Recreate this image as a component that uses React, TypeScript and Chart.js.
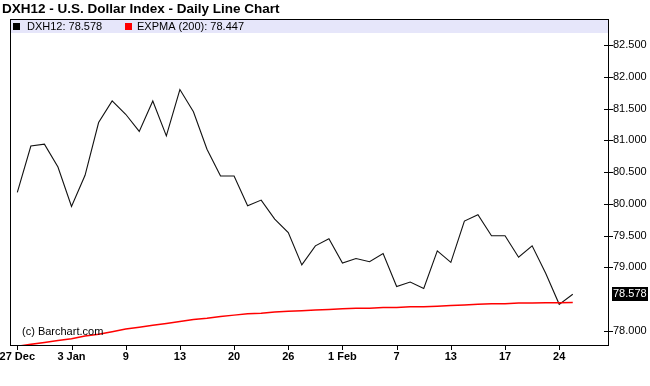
import React, { useEffect, useRef } from 'react';
import { Chart, registerables } from 'chart.js';
Chart.register(...registerables);

const TITLE = 'DXH12 - U.S. Dollar Index - Daily Line Chart';
const COPYRIGHT = '(c) Barchart.com';
const dxLabel = 'DXH12: 78.578';
const emaLabel = 'EXPMA (200): 78.447';
const lastDx = 78.578;

const dxValues = [
  80.18, 80.91, 80.94, 80.58, 79.96, 80.45, 81.28, 81.62, 81.41, 81.14,
  81.62, 81.07, 81.80, 81.45, 80.86, 80.44, 80.44, 79.97, 80.06, 79.76,
  79.55, 79.04, 79.34, 79.45, 79.07, 79.14, 79.09, 79.22, 78.70, 78.77,
  78.67, 79.26, 79.08, 79.73, 79.83, 79.50, 79.50, 79.16, 79.34, 78.91,
  78.42, 78.578,
];
const emaValues = [
  77.76, 77.79, 77.82, 77.85, 77.88, 77.92, 77.95, 77.99, 78.03, 78.06,
  78.09, 78.12, 78.15, 78.18, 78.20, 78.23, 78.25, 78.27, 78.28, 78.30,
  78.31, 78.32, 78.33, 78.34, 78.35, 78.36, 78.36, 78.37, 78.37, 78.38,
  78.38, 78.39, 78.40, 78.41, 78.42, 78.43, 78.43, 78.44, 78.44, 78.445,
  78.445, 78.447,
];
const xTickIndices = [0, 4, 8, 12, 16, 20, 24, 28, 32, 36, 40];
const xTickLabels = ['27 Dec', '3 Jan', '9', '13', '20', '26', '1 Feb', '7', '13', '17', '24'];
const yTickValues = [78.0, 79.0, 79.5, 80.0, 80.5, 81.0, 81.5, 82.0, 82.5];

const FONT = '"Liberation Sans", Arial, Helvetica, sans-serif';

const framePlugin = {
  id: 'framePlugin',
  beforeDatasetsDraw(chart: any) {
    const { ctx, chartArea } = chart;
    ctx.save();
    ctx.fillStyle = '#e6e6fa';
    ctx.fillRect(chartArea.left + 1, chartArea.top + 1, chartArea.right - chartArea.left - 1, 13);
    ctx.restore();
  },
  afterDraw(chart: any) {
    const { ctx, chartArea, scales } = chart;
    const { left, right, top, bottom } = chartArea;
    ctx.save();
    ctx.strokeStyle = '#000';
    ctx.lineWidth = 1;
    ctx.strokeRect(left + 0.5, top + 0.5, right - left, bottom - top);
    ctx.beginPath();
    yTickValues.forEach((v) => {
      const y = Math.round(scales.y.getPixelForValue(v)) + 0.5;
      ctx.moveTo(right - 4, y);
      ctx.lineTo(right + 5, y);
    });
    xTickIndices.forEach((v) => {
      const x = Math.round(scales.x.getPixelForValue(v)) + 0.5;
      ctx.moveTo(x, bottom);
      ctx.lineTo(x, bottom + 5);
    });
    ctx.stroke();

    ctx.fillStyle = '#000';
    ctx.textBaseline = 'middle';
    ctx.textAlign = 'left';
    ctx.font = 'bold 13.5px ' + FONT;
    ctx.fillText(TITLE, 2, 9);

    ctx.font = '11px ' + FONT;
    ctx.fillStyle = '#000';
    ctx.fillRect(13, 23, 7, 7);
    ctx.fillText(dxLabel, 27, 27);
    ctx.fillStyle = '#ff0000';
    ctx.fillRect(125, 23, 7, 7);
    ctx.fillStyle = '#000';
    ctx.fillText(emaLabel, 137, 27);

    ctx.fillText(COPYRIGHT, 22, 332);

    const yl = Math.round(scales.y.getPixelForValue(lastDx));
    ctx.fillStyle = '#000';
    ctx.fillRect(right + 4, yl - 7, 36, 14);
    ctx.fillStyle = '#fff';
    ctx.fillText(lastDx.toFixed(3), right + 5, yl);
    ctx.restore();
  },
};

export default function App() {
  const ref = useRef<HTMLCanvasElement>(null);
  useEffect(() => {
    if (!ref.current) return;
    const chart = new Chart(ref.current, {
      type: 'line',
      data: {
        datasets: [
          {
            label: 'EXPMA (200)',
            data: emaValues.map((v, i) => ({ x: i, y: v })),
            borderColor: '#ff0000',
            borderWidth: 1.5,
            pointRadius: 0,
            tension: 0,
            fill: false,
          },
          {
            label: 'DXH12',
            data: dxValues.map((v, i) => ({ x: i, y: v })),
            borderColor: '#111',
            borderWidth: 1.1,
            pointRadius: 0,
            tension: 0,
            fill: false,
          },
        ],
      },
      options: {
        animation: false,
        responsive: false,
        devicePixelRatio: 1,
        layout: { padding: { left: 10, top: 19, right: 0, bottom: 0 } },
        plugins: { legend: { display: false }, title: { display: false }, tooltip: { enabled: false } },
        scales: {
          x: {
            type: 'linear',
            min: -0.54,
            max: 43.6,
            afterBuildTicks: (s: any) => {
              s.ticks = xTickIndices.map((v) => ({ value: v }));
            },
            afterFit: (s: any) => {
              s.height = 41;
              s.paddingLeft = 0;
              s.paddingRight = 0;
            },
            grid: { display: false, drawTicks: false },
            border: { display: false },
            ticks: {
              autoSkip: false,
              maxRotation: 0,
              padding: 5,
              color: '#000',
              font: { family: FONT, size: 11, weight: 'bold' },
              callback: (v: any) => {
                const k = xTickIndices.indexOf(v);
                return k >= 0 ? xTickLabels[k] : '';
              },
            },
          },
          y: {
            type: 'linear',
            position: 'right',
            min: 77.78,
            max: 82.909,
            afterBuildTicks: (s: any) => {
              s.ticks = yTickValues.map((v) => ({ value: v }));
            },
            afterFit: (s: any) => {
              s.width = 42;
              s.paddingTop = 0;
              s.paddingBottom = 0;
            },
            grid: { display: false, drawTicks: false },
            border: { display: false },
            ticks: {
              padding: 5,
              color: '#000',
              font: { family: FONT, size: 11 },
              callback: (v: any) => Number(v).toFixed(3),
            },
          },
        },
      },
      plugins: [framePlugin],
    } as any);
    return () => chart.destroy();
  }, []);
  return (
    <div style={{ position: 'absolute', left: 0, top: 0, width: 650, height: 386, background: '#fff' }}>
      <canvas ref={ref} width={650} height={386} />
    </div>
  );
}
